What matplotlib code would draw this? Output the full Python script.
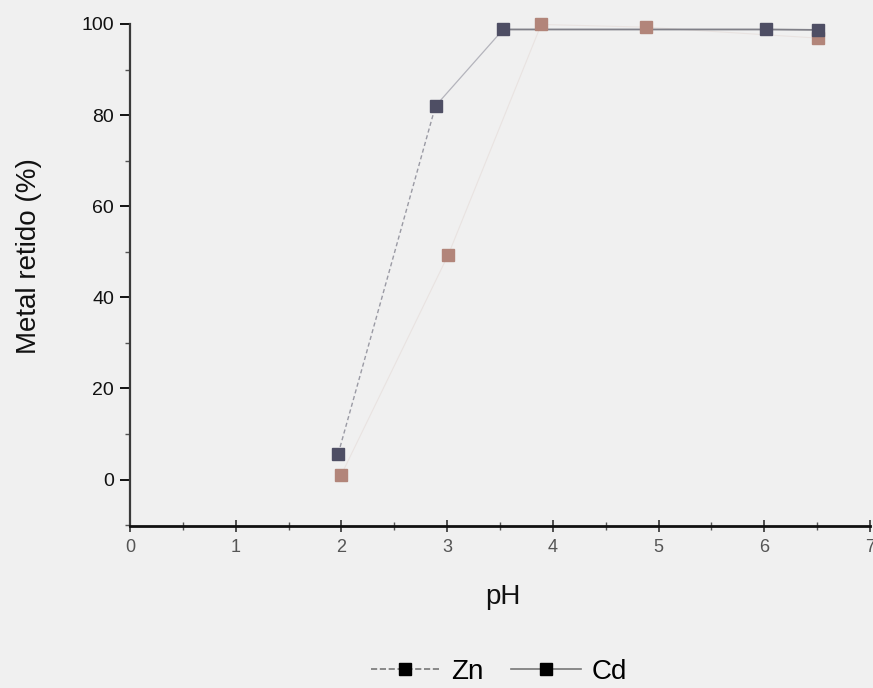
import matplotlib
matplotlib.use("Agg")
import matplotlib.pyplot as plt
from matplotlib.lines import Line2D
from matplotlib.ticker import MultipleLocator

plt.rcParams['font.family'] = ['Liberation Sans', 'DejaVu Sans']

# Data
zn_ph = [1.97, 2.89, 3.53, 6.02, 6.51]
zn_ret = [5.7, 82.0, 98.8, 98.8, 98.7]
cd_ph = [2.00, 3.01, 3.89, 4.88, 6.51]
cd_ret = [1.1, 49.3, 99.9, 99.3, 96.9]
x_ticks = [0, 1, 2, 3, 4, 5, 6, 7]
y_ticks = [0, 20, 40, 60, 80, 100]

W, H = 873, 688
fig = plt.figure(figsize=(W / 100, H / 100), dpi=100, facecolor='#f0f0f0')
ax = fig.add_axes([130 / W, 1 - 526 / H, 740 / W, (526 - 24) / H])
ax.set_facecolor('#f0f0f0')

dark = '#4e4e64'
orange = '#b2857a'

# Zn (dashed first segment, thin middle, solid plateau)
ax.plot(zn_ph[:2], zn_ret[:2], '--', color='#9a9aa4', lw=1.0, dashes=(3, 2), zorder=2)
ax.plot(zn_ph[1:3], zn_ret[1:3], '-', color='#b4b4bc', lw=0.9, zorder=2)
ax.plot(zn_ph[2:], zn_ret[2:], '-', color='#808088', lw=1.3, zorder=2)
ax.plot(zn_ph, zn_ret, 's', color=dark, ms=8.5, mec=dark, zorder=3, clip_on=False)
# Cd (very faint line + squares)
ax.plot(cd_ph, cd_ret, '-', color='#e9e3e1', lw=0.8, zorder=1)
ax.plot(cd_ph[:-1], cd_ret[:-1], 's', color=orange, ms=8.5, mec=orange, zorder=4,
        clip_on=False)
ax.plot(cd_ph[-1:], cd_ret[-1:], 's', color=orange, ms=8.5, mec=orange, zorder=2.5,
        clip_on=False)

ax.set_xlim(0, 7)
ax.set_ylim(-10.2, 100)
ax.set_xticks(x_ticks)
ax.set_yticks(y_ticks)
ax.xaxis.set_minor_locator(MultipleLocator(0.5))
ax.yaxis.set_minor_locator(MultipleLocator(10))
ax.set_xticklabels([str(v) for v in x_ticks])
ax.set_yticklabels([str(v) for v in y_ticks])

for s in ['top', 'right']:
    ax.spines[s].set_visible(False)
ax.spines['left'].set_color('#3a3a3a')
ax.spines['left'].set_linewidth(1.6)
ax.spines['bottom'].set_color('#111111')
ax.spines['bottom'].set_linewidth(2.0)

ax.tick_params(axis='y', which='major', direction='out', length=7, width=1.4,
               labelsize=14, pad=4.5, colors='#111111')
ax.tick_params(axis='y', which='minor', direction='out', length=3.5, width=1.0,
               color='#555555')
ax.tick_params(axis='x', which='major', direction='inout', length=9, width=1.2,
               labelsize=13, pad=5, colors='#333333', labelcolor='#555555')
ax.tick_params(axis='x', which='minor', direction='inout', length=6, width=1.0,
               color='#555555')

fig.text(29 / W, 1 - 256 / H, 'Metal retido (%)', rotation=90, ha='center',
         va='center', fontsize=20, color='#111111')
fig.text(503 / W, 1 - 597 / H, 'pH', ha='center', va='center', fontsize=20,
         color='#111111')

h_zn = Line2D([], [], color='#777777', ls='--', lw=1.2, marker='s', ms=8,
              mfc='black', mec='black')
h_cd = Line2D([], [], color='#777777', ls='-', lw=1.2, marker='s', ms=8,
              mfc='black', mec='black')
fig.legend([h_zn, h_cd], ['Zn', 'Cd'], loc='center',
           bbox_to_anchor=(499 / W, 1 - 672 / H), ncol=2, frameon=False,
           fontsize=20, handlelength=2.5, handletextpad=0.4, columnspacing=1.0,
           borderpad=0.0)

fig.savefig('out.png', dpi=100, facecolor='#f0f0f0')
